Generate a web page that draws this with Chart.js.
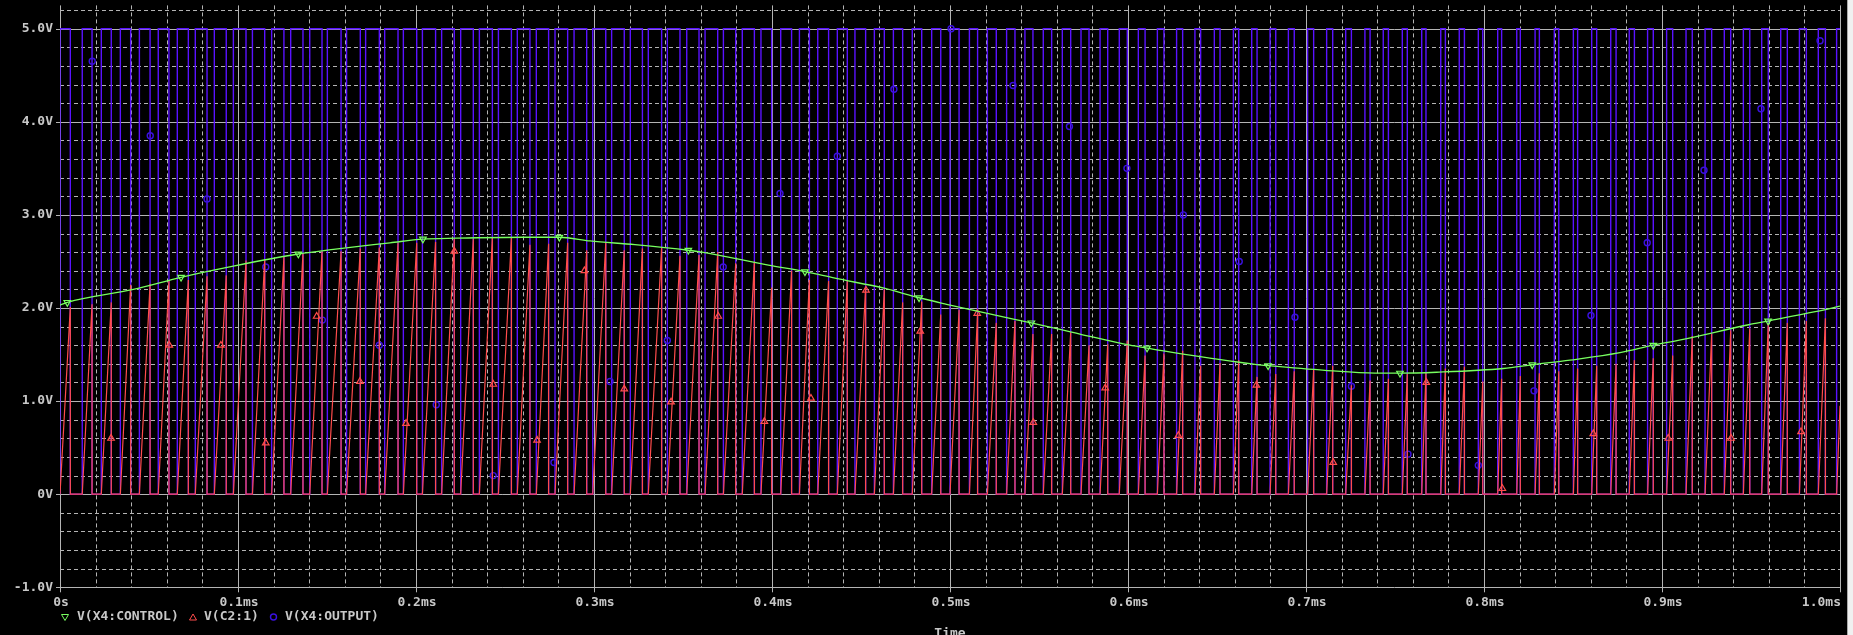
<!DOCTYPE html>
<html>
<head>
<meta charset="utf-8">
<title>PSpice transient</title>
<script src="https://cdn.jsdelivr.net/npm/chart.js@4.4.1/dist/chart.umd.min.js"></script>
<style>
  html, body { margin: 0; padding: 0; background: #000; }
  #wrap { position: relative; width: 1853px; height: 635px; overflow: hidden; background: #000; }
  #frame { position: absolute; left: 1847px; top: 0; width: 6px; height: 635px; background: #f0f0f0; border-left: 1px solid #a8a8a8; box-sizing: border-box; }
</style>
</head>
<body>
<div id="wrap">
  <canvas id="plot" width="1853" height="635"></canvas>
  <div id="frame"></div>
</div>
<script>
// time in microseconds, voltages in volts

// V(X4:CONTROL)
const controlTime = [0, 4.1, 41.2, 68.0, 97.4, 133.9, 153.6, 185.4, 203.9, 222.8, 260.3, 280.5, 297.8, 323.0,
  353.0, 360.5, 398.0, 418.5, 435.4, 463.5, 482.6, 498.1, 535.6, 545.7, 573.0, 601.1, 610.7, 635.8,
  673.2, 678.7, 710.7, 738.8, 752.8, 773.4, 810.9, 827.1, 848.3, 876.4, 895.1, 911.2, 948.7, 959.6, 986.1, 1000];
const controlVolts = [2.03, 2.06, 2.20, 2.33, 2.45, 2.58, 2.63, 2.70, 2.74, 2.75, 2.76, 2.76, 2.72, 2.68,
  2.62, 2.60, 2.46, 2.39, 2.32, 2.21, 2.11, 2.04, 1.88, 1.84, 1.72, 1.60, 1.57, 1.49,
  1.39, 1.38, 1.33, 1.30, 1.30, 1.31, 1.35, 1.39, 1.44, 1.52, 1.60, 1.66, 1.82, 1.86, 1.96, 2.02];
const controlMarkTime = [4.1, 68.0, 133.9, 203.9, 280.5, 353.0, 418.5, 482.6, 545.7, 610.7, 678.7, 752.8, 827.1, 895.1, 959.6];
const controlMarkVolts = [2.06, 2.33, 2.58, 2.74, 2.76, 2.62, 2.39, 2.11, 1.84, 1.57, 1.38, 1.30, 1.39, 1.60, 1.86];

// V(C2:1) ramps: start of each ramp, its end (reset) and the level reached
const rampStart = [0, 12.5, 23.2, 33.9, 44.6, 55.2, 65.9, 76.0, 86.7, 97.4, 108.1, 118.9, 129.6, 140.3, 150.2, 161.0, 171.7, 182.4,
  192.9, 203.6, 214.4, 225.1, 235.6, 246.3, 256.9, 267.6, 278.1, 288.8, 299.3, 309.9,
  320.4, 330.5, 341.2, 352.1, 362.4, 372.7, 383.3, 393.8, 404.9, 415.4, 425.7, 436.7, 446.6, 457.5,
  468.2, 478.8, 489.7, 500.0, 510.9, 521.0, 531.8, 542.1, 552.4, 563.1, 573.6, 584.3, 595.1,
  605.8, 616.5, 627.3, 637.6, 648.5, 659.2, 669.5, 679.8, 690.1, 700.9, 711.6, 722.3, 733.1,
  743.4, 754.1, 765.0, 775.7, 786.1, 796.8, 807.7, 818.4, 828.7, 839.5, 850.2, 860.5, 871.2,
  881.6, 891.9, 902.6, 913.5, 924.2, 935.0, 945.7, 956.0, 966.7, 977.2, 987.8, 998.1];
const rampEnd = [5.8, 18.0, 28.8, 39.7, 50.6, 61.2, 72.1, 82.6, 93.4, 104.5, 115.0, 125.8, 136.5, 147.2, 157.9, 168.7, 179.4, 189.9,
  200.4, 211.0, 221.5, 232.2, 242.9, 253.6, 264.0, 274.5, 285.2, 295.9, 306.6, 317.0,
  327.2, 338.0, 348.3, 359.0, 369.5, 379.6, 390.1, 399.8, 411.0, 421.0, 431.8, 442.3, 452.6, 463.1,
  473.4, 484.1, 494.8, 505.1, 515.5, 526.0, 536.5, 546.6, 557.1, 567.8, 578.1, 588.6, 599.6,
  609.6, 620.2, 630.7, 640.8, 651.7, 662.2, 672.5, 683.0, 693.4, 704.3, 715.0, 725.5, 736.0,
  746.3, 756.9, 767.4, 778.3, 789.0, 799.3, 809.9, 820.4, 831.1, 842.0, 852.6, 863.3, 874.2,
  884.5, 895.1, 906.0, 917.0, 927.9, 938.6, 949.3, 959.7, 970.4, 981.1, 991.8, 1000];
const rampPeak = [2.01, 2.04, 2.06, 2.25, 2.26, 2.30, 2.30, 2.34, 2.35, 2.51, 2.52, 2.55, 2.59, 2.61, 2.61, 2.64, 2.65, 2.70,
  2.70, 2.71, 2.74, 2.74, 2.76, 2.76, 2.68, 2.69, 2.70, 2.62, 2.70, 2.62,
  2.64, 2.65, 2.56, 2.57, 2.60, 2.48, 2.50, 2.22, 2.40, 2.30, 2.29, 2.30, 2.22, 2.20,
  2.06, 2.07, 1.93, 1.98, 1.95, 1.84, 1.86, 1.72, 1.72, 1.74, 1.60, 1.61, 1.65,
  1.49, 1.51, 1.54, 1.38, 1.41, 1.44, 1.26, 1.29, 1.32, 1.34, 1.38, 1.17, 1.22,
  1.24, 1.29, 1.31, 1.35, 1.37, 1.21, 1.24, 1.27, 1.30, 1.32, 1.35, 1.38, 1.40,
  1.44, 1.46, 1.49, 1.70, 1.72, 1.76, 1.78, 1.83, 1.84, 1.86, 1.89, 0.95];
const rampMarkTime = [28.7, 61.4, 90.4, 115.6, 144.2, 168.5, 194.4, 221.5, 243.4, 268.0, 294.6, 317.0, 343.3, 369.8, 395.7,
  421.9, 452.8, 483.3, 515.3, 546.8, 587.2, 628.3, 672.1, 715.3, 767.6, 810.3, 861.4, 903.5, 938.8, 978.1];
const rampMarkVolts = [0.60, 1.60, 1.60, 0.55, 1.91, 1.21, 0.76, 2.61, 1.18, 0.58, 2.40, 1.13, 0.99, 1.91, 0.78,
  1.03, 2.19, 1.75, 1.94, 0.77, 1.14, 0.63, 1.17, 0.34, 1.20, 0.06, 0.65, 0.60, 0.60, 0.67];

// V(X4:OUTPUT): high while the ramp runs, low after reset
const outHigh = 5.0;
const outLow = 0.0;
const outMarkTime = [18.1, 50.7, 82.6, 115.6, 147.4, 179.4, 211.4, 243.4, 277.5, 309.0, 341.2, 372.6, 404.5, 436.7, 468.5,
  500.6, 535.4, 567.1, 599.4, 631.1, 662.5, 693.8, 725.5, 757.3, 796.8, 828.1, 860.1, 891.7, 923.6, 955.6, 988.8];
const outMarkVolts = [4.65, 3.85, 3.17, 2.44, 1.87, 1.60, 0.96, 0.20, 0.34, 1.21, 1.65, 2.44, 3.23, 3.63, 4.35,
  5.00, 4.39, 3.95, 3.50, 3.00, 2.50, 1.90, 1.16, 0.43, 0.31, 1.11, 1.92, 2.70, 3.48, 4.14, 4.87];

// axes
const xTicks = [0, 100, 200, 300, 400, 500, 600, 700, 800, 900, 1000];
const xTickLabels = ['0s', '0.1ms', '0.2ms', '0.3ms', '0.4ms', '0.5ms', '0.6ms', '0.7ms', '0.8ms', '0.9ms', '1.0ms'];
const yTicks = [5, 4, 3, 2, 1, 0, -1];
const yTickLabels = ['5.0V', '4.0V', '3.0V', '2.0V', '1.0V', '0V', '-1.0V'];
const legendLabels = ['V(X4:CONTROL)', 'V(C2:1)', 'V(X4:OUTPUT)'];

const GREEN = '#78ff60';
const RED = '#ff4c4c';
const BLUE = '#5a12ff';
const BLUE_MARK = '#3a10e0';
const GRID = '#b4b4b4';
const TEXT = '#c8c8c8';
const FONT = 'bold 13px "DejaVu Sans Mono", "Liberation Mono", monospace';

function pairs(xs, ys) {
    return xs.map((x, i) => ({ x: x, y: ys[i] }));
}

const controlData = pairs(controlTime, controlVolts);

const rampData = [];
const outData = [];
rampStart.forEach((t0, i) => {
    const t1 = rampEnd[i];
    rampData.push({ x: t0, y: 0 }, { x: t1, y: rampPeak[i] });
    outData.push({ x: t0, y: outLow }, { x: t0, y: outHigh }, { x: t1, y: outHigh });
    if (t1 < 1000) {
        rampData.push({ x: t1, y: 0 });
        outData.push({ x: t1, y: outLow });
    }
});

// grid, ticks, labels and legend in the PSpice look
const probePlugin = {
    id: 'probe',
    beforeDatasetsDraw(chart) {
        const { ctx, chartArea: a, scales: { x, y } } = chart;
        const px = v => Math.round(x.getPixelForValue(v)) + 0.5;
        const py = v => Math.round(y.getPixelForValue(v)) + 0.5;
        ctx.save();
        ctx.lineWidth = 1;
        ctx.strokeStyle = GRID;

        // minor dashed lines
        ctx.setLineDash([4, 3]);
        ctx.beginPath();
        for (let t = 20; t < 1000; t += 20) {
            if (t % 100 === 0) continue;
            ctx.moveTo(px(t), a.top);
            ctx.lineTo(px(t), a.bottom);
        }
        for (let k = -4; k <= 26; k++) {
            if (k % 5 === 0) continue;
            const v = k * 0.2;
            ctx.moveTo(a.left, py(v));
            ctx.lineTo(a.right, py(v));
        }
        ctx.stroke();

        // major solid lines with their tick marks
        ctx.setLineDash([]);
        ctx.beginPath();
        xTicks.forEach(t => {
            ctx.moveTo(px(t), a.top);
            ctx.lineTo(px(t), a.bottom + 5);
        });
        yTicks.forEach(v => {
            ctx.moveTo(a.left - 4, py(v));
            ctx.lineTo(px(1000), py(v));
        });
        ctx.stroke();
        ctx.restore();
    },
    afterDraw(chart) {
        const { ctx, chartArea: a, scales: { x, y } } = chart;
        ctx.save();
        ctx.font = FONT;
        ctx.fillStyle = TEXT;

        ctx.textBaseline = 'middle';
        ctx.textAlign = 'right';
        yTicks.forEach((v, i) => ctx.fillText(yTickLabels[i], 53, y.getPixelForValue(v)));

        xTicks.forEach((t, i) => {
            ctx.textAlign = i === xTicks.length - 1 ? 'right' : 'center';
            ctx.fillText(xTickLabels[i], x.getPixelForValue(t) + 1, 603);
        });

        // legend
        const ly = 617;
        ctx.lineWidth = 1;
        ctx.textAlign = 'left';
        ctx.strokeStyle = GREEN;
        ctx.beginPath();
        ctx.moveTo(61.5, ly - 2.5); ctx.lineTo(68.5, ly - 2.5); ctx.lineTo(65, ly + 3.5); ctx.closePath();
        ctx.stroke();
        ctx.fillText(legendLabels[0], 77, ly);
        ctx.strokeStyle = RED;
        ctx.beginPath();
        ctx.moveTo(189.5, ly + 3); ctx.lineTo(196.5, ly + 3); ctx.lineTo(193, ly - 3); ctx.closePath();
        ctx.stroke();
        ctx.fillText(legendLabels[1], 204, ly);
        ctx.strokeStyle = BLUE_MARK;
        ctx.lineWidth = 1.4;
        ctx.beginPath();
        ctx.arc(273.5, ly, 3, 0, Math.PI * 2);
        ctx.stroke();
        ctx.fillText(legendLabels[2], 285, ly);

        ctx.textAlign = 'center';
        ctx.textBaseline = 'alphabetic';
        ctx.fillText('Time', (a.left + a.right) / 2, 636.5);
        ctx.restore();
    }
};

window.addEventListener('DOMContentLoaded', () => {
    const ctx = document.getElementById('plot').getContext('2d');
    new Chart(ctx, {
        type: 'line',
        data: {
            datasets: [
                {
                    label: 'control marks', data: pairs(controlMarkTime, controlMarkVolts), showLine: false,
                    pointStyle: 'triangle', pointRotation: 180, pointRadius: 3.8, pointBorderWidth: 1.2,
                    pointBorderColor: GREEN, pointBackgroundColor: 'rgba(0,0,0,0)', order: 0
                },
                {
                    label: legendLabels[0], data: controlData, borderColor: GREEN, borderWidth: 1.3,
                    cubicInterpolationMode: 'monotone', pointRadius: 0, order: 1
                },
                {
                    label: 'ramp marks', data: pairs(rampMarkTime, rampMarkVolts), showLine: false,
                    pointStyle: 'triangle', pointRadius: 3.8, pointBorderWidth: 1.2,
                    pointBorderColor: RED, pointBackgroundColor: 'rgba(0,0,0,0)', order: 2
                },
                {
                    label: legendLabels[1], data: rampData, borderColor: RED, borderWidth: 1.2,
                    pointRadius: 0, order: 3
                },
                {
                    label: 'output marks', data: pairs(outMarkTime, outMarkVolts), showLine: false,
                    pointStyle: 'circle', pointRadius: 3, pointBorderWidth: 1.4,
                    pointBorderColor: BLUE_MARK, pointBackgroundColor: 'rgba(0,0,0,0)', order: 4
                },
                {
                    label: legendLabels[2], data: outData, borderColor: BLUE, borderWidth: 1.4,
                    pointRadius: 0, order: 5
                }
            ]
        },
        options: {
            responsive: false,
            animation: false,
            devicePixelRatio: 1,
            layout: { padding: { left: 60, right: 13, top: 0, bottom: 47.7 } },
            scales: {
                x: { type: 'linear', min: 0, max: 1000, display: false },
                y: { type: 'linear', min: -1, max: 5.25, display: false }
            },
            elements: { line: { tension: 0 } },
            plugins: { legend: { display: false }, tooltip: { enabled: false } }
        },
        plugins: [probePlugin]
    });
});
</script>
</body>
</html>
